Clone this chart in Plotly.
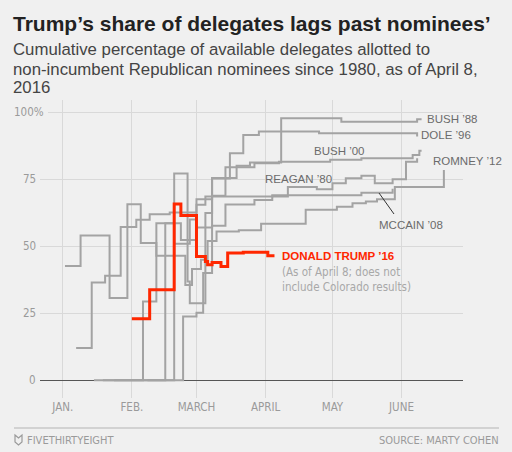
"""Trump's share of delegates vs past Republican nominees - step chart."""
import plotly.graph_objects as go

# ---- data (cumulative % of available delegates, mapped onto the 2016 calendar)
ROMNEY_DATES = ["2016-01-02", "2016-01-09", "2016-01-22", "2016-01-30", "2016-02-05",
                "2016-02-12", "2016-02-25", "2016-02-28", "2016-03-03", "2016-03-06",
                "2016-03-10", "2016-03-20", "2016-03-30", "2016-04-19", "2016-05-03",
                "2016-05-10", "2016-05-16", "2016-05-21", "2016-05-29", "2016-06-20"]
ROMNEY_VALS = [42.7, 54, 30.7, 65.7, 51.2, 46.5, 35.6, 41.5, 45, 52,
               55.5, 56, 58.4, 63.6, 64.8, 66.1, 66.7, 67.6, 72.1, 78.5]

MCCAIN_DATES = ["2016-01-07", "2016-01-14", "2016-01-20", "2016-01-27", "2016-02-03",
                "2016-02-09", "2016-02-18", "2016-03-01", "2016-03-05", "2016-04-04",
                "2016-05-14", "2016-05-28"]
MCCAIN_VALS = [12.1, 36.5, 39, 57.2, 59.9, 62, 62.6, 65.5, 68.6, 69.1, 70, 71.5]

DOLE_DATES = ["2016-01-15", "2016-02-06", "2016-02-12", "2016-02-20", "2016-02-27",
              "2016-03-01", "2016-03-08", "2016-03-16", "2016-03-22", "2016-03-29",
              "2016-04-25", "2016-06-08"]
DOLE_VALS = [0, 29.4, 58.6, 51, 60, 67.6, 75.3, 84.7, 91.5, 92.8, 92.2, 91]

BUSH88_DATES = ["2016-02-08", "2016-02-16", "2016-02-23", "2016-03-01", "2016-03-08",
                "2016-03-19", "2016-03-25", "2016-04-08", "2016-05-05", "2016-06-08",
                "2016-06-10"]
BUSH88_VALS = [0, 58.6, 52.4, 57, 75.5, 80.1, 81.3, 97.8, 96.5, 97.4, 97.4]

BUSH00_DATES = ["2016-01-24", "2016-02-20", "2016-02-26", "2016-02-27", "2016-03-05",
                "2016-03-08", "2016-03-14", "2016-03-27", "2016-04-07", "2016-04-30",
                "2016-05-14", "2016-06-06", "2016-06-09", "2016-06-10"]
BUSH00_VALS = [0, 77.2, 36.9, 28.8, 62.4, 68.9, 79.5, 81, 81.6, 82.3, 82.9, 84.1, 85.7, 85.7]

REAGAN_DATES = ["2016-01-19", "2016-02-24", "2016-03-01", "2016-03-04", "2016-03-08",
                "2016-03-14", "2016-03-27", "2016-04-04", "2016-04-11", "2016-04-24",
                "2016-05-01", "2016-05-07", "2016-05-14", "2016-05-20", "2016-05-28",
                "2016-06-03", "2016-06-08"]
REAGAN_VALS = [0, 23.8, 25.2, 40, 57.7, 65.6, 67.3, 68.6, 72.1, 71.3,
               73.5, 75.4, 76.3, 73.5, 75, 81.6, 82.9]

TRUMP_DATES = ["2016-02-01", "2016-02-09", "2016-02-20", "2016-02-23", "2016-03-01",
               "2016-03-05", "2016-03-06", "2016-03-08", "2016-03-12", "2016-03-15",
               "2016-03-22", "2016-04-02", "2016-04-05"]
TRUMP_VALS = [23, 33.8, 65.8, 61.5, 46.2, 44.3, 43.1, 44, 42.5, 47.5, 47.8, 46.5, 46.5]

MONTH_TICKS = ["2016-01-01", "2016-02-01", "2016-03-01", "2016-04-01", "2016-05-01", "2016-06-01"]
MONTH_LABELS = ["JAN.", "FEB.", "MARCH", "APRIL", "MAY", "JUNE"]
Y_TICKS = [0, 25, 50, 75, 100]
Y_LABELS = ["0", "25", "50", "75", "100%"]

GRAY_SERIES = [
    ("REAGAN '80", REAGAN_DATES, REAGAN_VALS),
    ("BUSH '88", BUSH88_DATES, BUSH88_VALS),
    ("DOLE '96", DOLE_DATES, DOLE_VALS),
    ("BUSH '00", BUSH00_DATES, BUSH00_VALS),
    ("MCCAIN '08", MCCAIN_DATES, MCCAIN_VALS),
    ("ROMNEY '12", ROMNEY_DATES, ROMNEY_VALS),
]

# ---- styling
BG = "#f0f0f0"
LINE_GRAY = "#a3a3a3"
RED = "#ff2700"
SANS = "Liberation Sans, Arial, sans-serif"
NARROW = "Liberation Sans Narrow, DejaVu Sans Condensed, Roboto, sans-serif"

L, R, T, B = 40, 463, 100, 398  # plot area in page pixels
W, H = 512, 452


def px(x):
    return (x - L) / (R - L)


def py(y):
    return (B - y) / (B - T)


fig = go.Figure()
for name, dates, vals in GRAY_SERIES:
    fig.add_trace(go.Scatter(
        x=dates, y=vals, mode="lines", name=name,
        line=dict(shape="hv", color=LINE_GRAY, width=2),
        hoverinfo="skip",
    ))
fig.add_trace(go.Scatter(
    x=TRUMP_DATES, y=TRUMP_VALS, mode="lines", name="TRUMP '16",
    line=dict(shape="hv", color=RED, width=3),
    hoverinfo="skip",
))

ann = []


def label(text, x, y, size=11.5, color="#6b6b6b", family=SANS, anchor="left"):
    ann.append(dict(text=text, xref="paper", yref="paper", x=px(x), y=py(y),
                    xanchor=anchor, yanchor="middle", showarrow=False,
                    font=dict(size=size, color=color, family=family)))


# header
label("<b>Trump’s share of delegates lags past nominees’</b>", 11, 23, size=21, color="#222")
label("Cumulative percentage of available delegates allotted to", 11, 50, size=16.8, color="#444")
label("non-incumbent Republican nominees since 1980, as of April 8,", 11, 69, size=16.8, color="#444")
label("2016", 11, 87, size=16.8, color="#444")

# y tick labels, placed in the left margin
for val, txt in zip(Y_TICKS, Y_LABELS):
    ann.append(dict(text=txt, xref="paper", yref="y", x=px(46 if txt.endswith("%") else 38), y=val,
                    xanchor="right", yanchor="middle", showarrow=False,
                    font=dict(size=11.5, color="#9a9a9a", family=NARROW)))

# series labels
label("BUSH ’88", 425, 119)
label("DOLE ’96", 419, 135)
label("BUSH ’00", 312, 151)
label("ROMNEY ’12", 431, 161)
label("REAGAN ’80", 263, 179)
label("MCCAIN ’08", 377, 225)
label("<b>DONALD TRUMP ’16</b>", 280, 256, size=11.5, color=RED, family=SANS)
label("(As of April 8; does not", 280, 272, size=11.5, color="#a8a8a8", family=NARROW)
label("include Colorado results)", 280, 287, size=11.5, color="#a8a8a8", family=NARROW)

# footer
label("FIVETHIRTYEIGHT", 25, 440, size=11, color="#9a9a9a", family=NARROW)
label("SOURCE: MARTY COHEN", 501, 440, size=11, color="#9a9a9a", family=NARROW, anchor="right")

shapes = [
    # gap in the 100% gridline next to its label
    dict(type="rect", xref="paper", yref="y", x0=px(40), x1=px(48), y0=99.3, y1=100.7,
         fillcolor=BG, line=dict(width=0), layer="above"),
    dict(type="line", xref="paper", yref="paper", x0=px(394), y0=py(214), x1=px(379), y1=py(193),
         line=dict(color="#333", width=1)),
    dict(type="line", xref="paper", yref="paper", x0=px(14), y0=py(428), x1=px(499), y1=py(428),
         line=dict(color="#c8c8c8", width=1.5)),
    dict(type="path", xref="paper", yref="paper",
         path=f"M {px(15)},{py(435)} L {px(18.5)},{py(438)} L {px(22)},{py(435)} "
              f"L {px(22)},{py(442)} L {px(18.5)},{py(445)} L {px(15)},{py(442)} Z",
         line=dict(color="#9a9a9a", width=1.2)),
]

fig.update_layout(
    width=W, height=H,
    margin=dict(l=L, r=W - R, t=T, b=H - B, autoexpand=False),
    paper_bgcolor=BG, plot_bgcolor=BG,
    showlegend=False,
    annotations=ann, shapes=shapes,
    xaxis=dict(
        type="date", range=["2015-12-21 19:00", "2016-06-28 14:00"],
        tickvals=MONTH_TICKS, ticktext=MONTH_LABELS,
        showgrid=True, gridcolor="#d9d9d9", gridwidth=1,
        zeroline=False, showline=False, ticks="",
        tickfont=dict(family=NARROW, size=11.5, color="#9a9a9a"),
        automargin=False, fixedrange=True,
    ),
    yaxis=dict(
        range=[-6.6, 104.6],
        tickvals=Y_TICKS, showticklabels=False,
        showgrid=True, gridcolor="#d9d9d9", gridwidth=1,
        zeroline=True, zerolinecolor="#555", zerolinewidth=1.3,
        showline=False, ticks="",
        automargin=False, fixedrange=True,
    ),
)

fig.write_html("out.html", config={"displayModeBar": False},
               post_script="document.body.style.margin='0';")
